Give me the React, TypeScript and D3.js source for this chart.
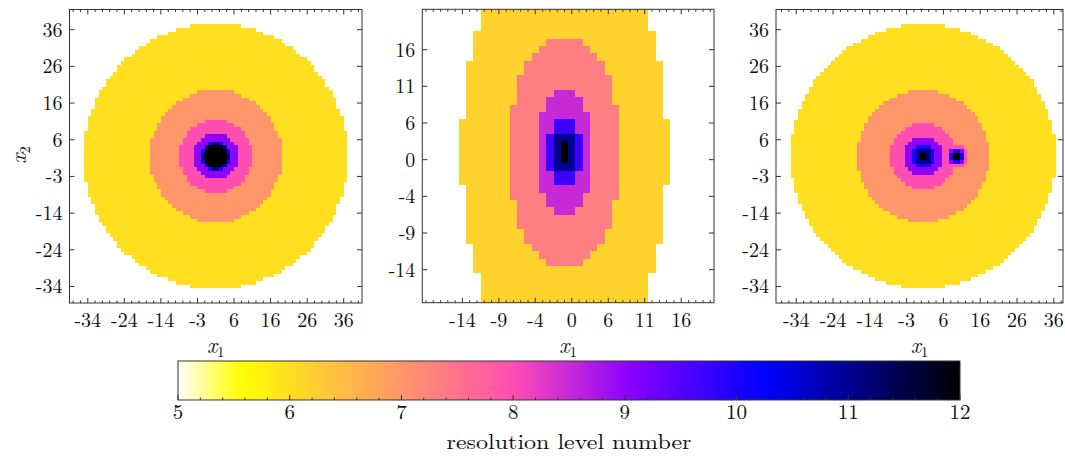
import React, { useEffect, useRef } from "react";
import * as d3 from "d3";

const W = 1065, H = 461;

// regions: resolution level, centre, radius (circles) / half sizes (ellipses)
const leftLevels = [6, 7, 8, 9, 10, 11, 12];
const leftRadius = [36.1, 18.1, 10.1, 6.1, 4.2, 3.6, 3.2];
const leftCentre = [1, 1.5];

const midLevels = [6.18, 7.33, 8.5, 9.75, 11, 12];
const midHalfW = [14.13, 7.8, 3.8, 2.6, 1.6, 0.5];
const midHalfH = [32, 15.8, 8.6, 4.5, 2.9, 1.6];
const midCentre = [0, 2];

const rightLevels = [6, 7, 8, 9, 10, 11, 12];
const rightRadius = [36, 18, 9.1, 5.4, 3.2, 2.2, 0.8];
const rightCentre = [0.5, 1.5];
const spotLevels = [8, 9, 10, 12];
const spotRadius = [3.2, 2.2, 1.6, 0.8];
const spotCentre = [9.5, 1.5];

const wideTicks = [-34, -24, -14, -4, 6, 16, 26, 36];
const wideLabels = ["-34", "-24", "-14", "-3", "6", "16", "26", "36"];
const narrowTicks = [-14, -9, -4, 1, 6, 11, 16];
const narrowLabels = ["-14", "-9", "-4", "0", "6", "11", "16"];
const barTicks = [5, 6, 7, 8, 9, 10, 11, 12];

const FONT = "'Latin Modern Roman', 'CMU Serif', 'Liberation Serif', serif";

// matplotlib gnuplot2, reversed over 5..12
const clamp = (v: number) => Math.max(0, Math.min(1, v));
function gnuplot2(t: number) {
  const r = clamp(t / 0.32 - 0.78125);
  const g = clamp(2 * t - 0.84);
  let b;
  if (t < 0.25) b = 4 * t;
  else if (t < 0.42) b = 1;
  else if (t < 0.92) b = -2 * t + 1.84;
  else b = t / 0.08 - 11.5;
  return d3.rgb(r * 255, g * 255, clamp(b) * 255).formatHex();
}
const levelColor = (v: number) => gnuplot2((12 - v) / 7);

const circles = (levels: number[], radius: number[], c: number[]) =>
  levels.map((lv, i) => ({ level: lv, cx: c[0], cy: c[1], rx: radius[i], ry: radius[i] }));

const panels = [
  {
    box: [69.5, 362, 9.5, 303], xDomain: [-39, 41], yDomain: [-38.5, 41.5],
    regions: circles(leftLevels, leftRadius, leftCentre),
    ticks: wideTicks, labels: wideLabels, minor: d3.range(-38, 41, 2), ylabel: true,
  },
  {
    box: [422.3, 714, 9.3, 302.7], xDomain: [-19.5, 20.5], yDomain: [-18.5, 21.5],
    regions: midLevels.map((lv, i) => ({ level: lv, cx: midCentre[0], cy: midCentre[1], rx: midHalfW[i], ry: midHalfH[i] })),
    ticks: narrowTicks, labels: narrowLabels, minor: d3.range(-19, 21, 1), ylabel: false,
  },
  {
    box: [776, 1063, 9.5, 303], xDomain: [-39.5, 38.5], yDomain: [-38.5, 41.5],
    regions: [...circles(rightLevels, rightRadius, rightCentre), ...circles(spotLevels, spotRadius, spotCentre)],
    ticks: wideTicks, labels: wideLabels, minor: d3.range(-38, 39, 2), ylabel: false,
  },
];

function levelAt(regions: any[], x: number, y: number) {
  let best: number | null = null;
  regions.forEach((r) => {
    const d = ((x - r.cx) / r.rx) ** 2 + ((y - r.cy) / r.ry) ** 2;
    if (d <= 1 && (best === null || r.level > best)) best = r.level;
  });
  return best;
}

function subLabel(g: any, x: number, y: number, sub: string, rotate = false) {
  const t = g.append("text").attr("font-family", FONT).attr("font-size", 22).attr("fill", "#111")
    .attr("text-anchor", "middle");
  if (rotate) t.attr("transform", `translate(${x},${y}) rotate(-90)`);
  else t.attr("x", x).attr("y", y);
  t.append("tspan").attr("font-style", "italic").text("x");
  t.append("tspan").attr("font-size", 15).attr("dy", 4).text(sub);
}

function drawPanel(svg: any, p: any) {
  const [x0, x1, y0, y1] = p.box;
  const x = d3.scaleLinear().domain(p.xDomain).range([x0, x1]);
  const y = d3.scaleLinear().domain(p.yDomain).range([y1, y0]);
  const g = svg.append("g");

  const cells: any[] = [];
  const xs = d3.range(p.xDomain[0] + 0.5, p.xDomain[1], 1);
  const ys = d3.range(p.yDomain[0] + 0.5, p.yDomain[1], 1);
  ys.forEach((cy) => {
    let run: any = null;
    xs.forEach((cx) => {
      const lv = levelAt(p.regions, cx, cy);
      if (run && run.level === lv) run.b = cx + 0.5;
      else {
        if (run && run.level !== null) cells.push(run);
        run = { level: lv, a: cx - 0.5, b: cx + 0.5, cy };
      }
    });
    if (run && run.level !== null) cells.push(run);
  });

  g.append("g").attr("shape-rendering", "crispEdges").selectAll("rect").data(cells).join("rect")
    .attr("x", (d: any) => x(d.a)).attr("width", (d: any) => x(d.b) - x(d.a))
    .attr("y", (d: any) => y(d.cy + 0.5)).attr("height", (d: any) => y(d.cy - 0.5) - y(d.cy + 0.5))
    .attr("fill", (d: any) => levelColor(d.level));

  const ax = g.append("g").attr("stroke", "#333").attr("stroke-width", 1);
  const minor = p.minor.filter((v: number) => !p.ticks.includes(v));
  minor.forEach((v: number) => {
    ax.append("line").attr("x1", x(v)).attr("x2", x(v)).attr("y1", y1).attr("y2", y1 - 2.5);
    ax.append("line").attr("x1", x(v)).attr("x2", x(v)).attr("y1", y0).attr("y2", y0 + 2.5);
  });
  p.ticks.forEach((v: number) => {
    ax.append("line").attr("x1", x(v)).attr("x2", x(v)).attr("y1", y1).attr("y2", y1 - 5);
    ax.append("line").attr("x1", x(v)).attr("x2", x(v)).attr("y1", y0).attr("y2", y0 + 5);
    ax.append("line").attr("y1", y(v)).attr("y2", y(v)).attr("x1", x0).attr("x2", x0 + 5);
    ax.append("line").attr("y1", y(v)).attr("y2", y(v)).attr("x1", x1).attr("x2", x1 - 5);
  });
  ax.append("rect").attr("x", x0).attr("y", y0).attr("width", x1 - x0).attr("height", y1 - y0)
    .attr("fill", "none");

  const txt = g.append("g").attr("font-family", FONT).attr("font-size", 20).attr("fill", "#111");
  p.ticks.forEach((v: number, i: number) => {
    txt.append("text").attr("x", x(v)).attr("y", y1 + 24).attr("text-anchor", "middle").text(p.labels[i]);
    txt.append("text").attr("x", x0 - 7).attr("y", y(v)).attr("dy", "0.35em").attr("text-anchor", "end").text(p.labels[i]);
  });
  subLabel(g, (x0 + x1) / 2, 353, "1");
  if (p.ylabel) subLabel(g, 26, 155, "2", true);
}

function drawColorbar(svg: any) {
  const x = d3.scaleLinear().domain([5, 12]).range([178, 960]);
  const top = 361, bottom = 400;
  const grad = svg.append("defs").append("linearGradient").attr("id", "cmap");
  d3.range(0, 1.0001, 1 / 70).forEach((t) => {
    grad.append("stop").attr("offset", t).attr("stop-color", levelColor(5 + 7 * t));
  });
  svg.append("rect").attr("x", x(5)).attr("y", top).attr("width", x(12) - x(5)).attr("height", bottom - top)
    .attr("fill", "url(#cmap)").attr("stroke", "#333").attr("stroke-width", 1);
  const ax = svg.append("g").attr("stroke", "#333").attr("stroke-width", 1);
  d3.range(5, 12.001, 0.2).forEach((v) => {
    const major = Math.abs(v - Math.round(v)) < 1e-6;
    ax.append("line").attr("x1", x(v)).attr("x2", x(v)).attr("y1", bottom).attr("y2", bottom - (major ? 5 : 2.5));
  });
  const txt = svg.append("g").attr("font-family", FONT).attr("font-size", 21).attr("fill", "#111")
    .attr("text-anchor", "middle");
  barTicks.forEach((v) => txt.append("text").attr("x", x(v)).attr("y", 419).text(String(v)));
  txt.append("text").attr("x", x(8.5)).attr("y", 449).attr("textLength", 245)
    .attr("lengthAdjust", "spacingAndGlyphs").text("resolution level number");
}

export default function App() {
  const ref = useRef<SVGSVGElement>(null);
  useEffect(() => {
    const svg = d3.select(ref.current);
    svg.selectAll("*").remove();
    svg.append("rect").attr("width", W).attr("height", H).attr("fill", "white");
    panels.forEach((p) => drawPanel(svg, p));
    drawColorbar(svg);
  }, []);
  return <svg ref={ref} width={W} height={H} style={{ position: "absolute", left: 0, top: 0 }} />;
}
